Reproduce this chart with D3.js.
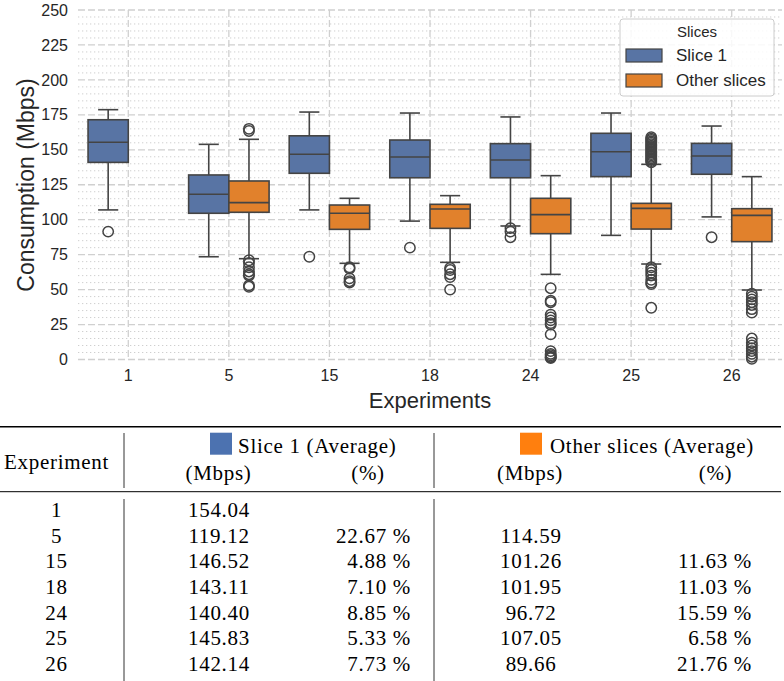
<!DOCTYPE html>
<html>
<head>
<meta charset="utf-8">
<script src="https://cdn.jsdelivr.net/npm/d3@7"></script>
<style>
  html, body { margin: 0; padding: 0; background: #ffffff; }
  svg { display: block; }
</style>
</head>
<body>
<svg id="chart" width="784" height="681"></svg>
<script>
// ---------------- DATA ----------------
const experiments = ["1", "5", "15", "18", "24", "25", "26"];
const yTicks = [0, 25, 50, 75, 100, 125, 150, 175, 200, 225, 250];
const seriesNames = ["Slice 1", "Other slices"];

// Slice 1 box statistics (Mbps), null = no data
const s1WhiskerLow  = [107,   73.5, 107,   99,    95.5,  88.8,  102];
const s1Q1          = [141,   104.6, 133.2, 130,  130,   130.8, 132.5];
const s1Median      = [155.4, 118.2, 146.8, 144.8, 142.7, 148.6, 145.6];
const s1Q3          = [171.5, 132,  160,   157,   154.4, 161.8, 154.6];
const s1WhiskerHigh = [178.7, 153.9, 177,  176.3, 173.5, 176.3, 167];
const s1Outliers    = [[91.5], [], [73.5], [80], [94, 91.5, 87.5], [], [87.5]];

// Other slices box statistics (Mbps)
const otWhiskerLow  = [null, 72.1, 68.8, 69.5, 60.9, 68.3, 49.7];
const otQ1          = [null, 105.3, 93.1, 93.8, 90,   93.3, 84.3];
const otMedian      = [null, 112.2, 104.6, 107.7, 103.6, 108.1, 103.1];
const otQ3          = [null, 127.7, 110.5, 111,  115.3, 111.7, 107.9];
const otWhiskerHigh = [null, 157.5, 115.3, 117.2, 131.5, 139.6, 130.8];
const otOutliers    = [
  [],
  [163.5, 165, 71, 69, 66, 63, 61, 60, 53, 52],
  [66, 65, 58, 56, 55],
  [65.5, 64, 61, 59, 50],
  [51, 42, 41, 32, 30, 28, 26, 25, 18, 6, 4, 3, 2, 1.5, 1],
  [141, 142, 143, 144, 145, 146, 147, 148, 149, 150, 151, 152, 153, 154, 155, 156, 157, 158, 159,
   66, 64, 62, 60, 57, 55, 54, 37],
  [47, 45, 43, 41, 39, 36, 33.5, 15, 12, 10, 8, 6, 4, 2, 0.5]
];

// Table values
const tableExperiments = ["1", "5", "15", "18", "24", "25", "26"];
const s1Average   = ["154.04", "119.12", "146.52", "143.11", "140.40", "145.83", "142.14"];
const s1Percent   = ["", "22.67 %", "4.88 %", "7.10 %", "8.85 %", "5.33 %", "7.73 %"];
const otAverage   = ["", "114.59", "101.26", "101.95", "96.72", "107.05", "89.66"];
const otPercent   = ["", "", "11.63 %", "11.03 %", "15.59 %", "6.58 %", "21.76 %"];

// ---------------- DRAW ----------------
const svg = d3.select("#chart");
const boxColors = ["#5874a4", "#e1812c"];
const legendSwatch = ["#4c72b0", "#ff7f0e"];
const edge = "#444444";
const sansFont = "'Liberation Sans', Arial, sans-serif";
const serifFont = "'Liberation Serif', 'Times New Roman', serif";

const plotL = 78, plotR = 782, plotT = 10, plotB = 359.5;
const x = d3.scaleBand().domain(experiments).range([plotL, plotR]).paddingInner(0).paddingOuter(0);
const hue = d3.scaleBand().domain(seriesNames).range([-x.bandwidth() * 0.4, x.bandwidth() * 0.4]);
const y = d3.scaleLinear().domain([0, 250]).range([plotB, plotT]);

// grid
const grid = svg.append("g");
const minor = d3.range(0, 251, 5).filter(v => v % 25 !== 0);
grid.selectAll("line.minor").data(minor).join("line")
  .attr("x1", plotL).attr("x2", plotR)
  .attr("y1", d => y(d)).attr("y2", d => y(d))
  .attr("stroke", "#cfcfcf").attr("stroke-width", 1)
  .attr("stroke-dasharray", "1.3,2.7");
grid.selectAll("line.major").data(yTicks).join("line")
  .attr("x1", plotL).attr("x2", plotR)
  .attr("y1", d => y(d)).attr("y2", d => y(d))
  .attr("stroke", "#d0d0d0").attr("stroke-width", 1.3)
  .attr("stroke-dasharray", "7,3");
grid.selectAll("line.vmajor").data(experiments).join("line")
  .attr("x1", d => x(d) + x.bandwidth() / 2).attr("x2", d => x(d) + x.bandwidth() / 2)
  .attr("y1", plotT).attr("y2", plotB)
  .attr("stroke", "#d0d0d0").attr("stroke-width", 1.3)
  .attr("stroke-dasharray", "7,3");

// axes (text only, seaborn whitegrid style)
const yAxis = svg.append("g").attr("transform", `translate(${plotL},0)`)
  .call(d3.axisLeft(y).tickValues(yTicks).tickSize(0).tickPadding(10));
yAxis.select(".domain").remove();
yAxis.selectAll("text").attr("font-family", sansFont).attr("font-size", 16).attr("fill", "#262626");

const xAxis = svg.append("g").attr("transform", `translate(0,${plotB})`)
  .call(d3.axisBottom(x).tickSize(0).tickPadding(10));
xAxis.select(".domain").remove();
xAxis.selectAll("text").attr("font-family", sansFont).attr("font-size", 16).attr("fill", "#262626");

svg.append("text").attr("x", 430).attr("y", 408).attr("text-anchor", "middle")
  .attr("font-family", sansFont).attr("font-size", 22).attr("fill", "#262626").text("Experiments");
svg.append("text").attr("transform", "translate(34,185) rotate(-90)").attr("text-anchor", "middle")
  .attr("font-family", sansFont).attr("font-size", 23).attr("fill", "#262626").text("Consumption (Mbps)");

// boxes
const stats = [
  {name: "Slice 1", lo: s1WhiskerLow, q1: s1Q1, med: s1Median, q3: s1Q3, hi: s1WhiskerHigh, out: s1Outliers},
  {name: "Other slices", lo: otWhiskerLow, q1: otQ1, med: otMedian, q3: otQ3, hi: otWhiskerHigh, out: otOutliers}
];
const boxW = hue.bandwidth();
const capW = boxW / 2;
stats.forEach((s, si) => {
  experiments.forEach((e, i) => {
    if (s.q1[i] == null) return;
    const cx = x(e) + x.bandwidth() / 2 + hue(s.name) + boxW / 2;
    const g = svg.append("g");
    // whiskers
    g.append("line").attr("x1", cx).attr("x2", cx).attr("y1", y(s.q3[i])).attr("y2", y(s.hi[i]))
      .attr("stroke", edge).attr("stroke-width", 1.6);
    g.append("line").attr("x1", cx).attr("x2", cx).attr("y1", y(s.q1[i])).attr("y2", y(s.lo[i]))
      .attr("stroke", edge).attr("stroke-width", 1.6);
    g.append("line").attr("x1", cx - capW / 2).attr("x2", cx + capW / 2).attr("y1", y(s.hi[i])).attr("y2", y(s.hi[i]))
      .attr("stroke", edge).attr("stroke-width", 1.6);
    g.append("line").attr("x1", cx - capW / 2).attr("x2", cx + capW / 2).attr("y1", y(s.lo[i])).attr("y2", y(s.lo[i]))
      .attr("stroke", edge).attr("stroke-width", 1.6);
    // box
    g.append("rect").attr("x", cx - boxW / 2).attr("y", y(s.q3[i]))
      .attr("width", boxW).attr("height", y(s.q1[i]) - y(s.q3[i]))
      .attr("fill", boxColors[si]).attr("stroke", edge).attr("stroke-width", 1.6);
    g.append("line").attr("x1", cx - boxW / 2).attr("x2", cx + boxW / 2).attr("y1", y(s.med[i])).attr("y2", y(s.med[i]))
      .attr("stroke", edge).attr("stroke-width", 1.6);
    // outliers
    g.selectAll("circle").data(s.out[i]).join("circle")
      .attr("cx", cx).attr("cy", d => y(d)).attr("r", 5.2)
      .attr("fill", "none").attr("stroke", edge).attr("stroke-width", 1.5);
  });
});

// legend
const lg = svg.append("g");
lg.append("rect").attr("x", 620).attr("y", 19).attr("width", 154).attr("height", 77).attr("rx", 3)
  .attr("fill", "#ffffff").attr("fill-opacity", 0.85).attr("stroke", "#cccccc").attr("stroke-width", 1);
lg.append("text").attr("x", 697).attr("y", 37).attr("text-anchor", "middle")
  .attr("font-family", sansFont).attr("font-size", 15).attr("fill", "#262626").text("Slices");
seriesNames.forEach((n, i) => {
  lg.append("rect").attr("x", 626).attr("y", 49 + i * 25).attr("width", 36).attr("height", 13)
    .attr("fill", boxColors[i]).attr("stroke", edge).attr("stroke-width", 1.2);
  lg.append("text").attr("x", 676).attr("y", 61 + i * 25)
    .attr("font-family", sansFont).attr("font-size", 17).attr("fill", "#262626").text(n);
});

// ---------------- TABLE ----------------
const tb = svg.append("g").attr("font-family", serifFont).attr("font-size", 21).attr("fill", "#000");
tb.append("line").attr("x1", 0).attr("x2", 781).attr("y1", 426.7).attr("y2", 426.7).attr("stroke", "#000").attr("stroke-width", 1.4);
tb.append("line").attr("x1", 0).attr("x2", 781).attr("y1", 491.7).attr("y2", 491.7).attr("stroke", "#000").attr("stroke-width", 1);
[124, 434].forEach(vx => {
  tb.append("line").attr("x1", vx).attr("x2", vx).attr("y1", 433).attr("y2", 488).attr("stroke", "#333").attr("stroke-width", 1);
  tb.append("line").attr("x1", vx).attr("x2", vx).attr("y1", 499).attr("y2", 681).attr("stroke", "#333").attr("stroke-width", 1);
});
const txt = (xx, yy, s, anchor) => tb.append("text").attr("x", xx).attr("y", yy)
  .attr("text-anchor", anchor).attr("letter-spacing", 0.7).text(s);

txt(56.5, 469, "Experiment", "middle");
tb.append("rect").attr("x", 210).attr("y", 432.7).attr("width", 22).attr("height", 22).attr("fill", legendSwatch[0]);
txt(238, 453, "Slice 1 (Average)", "start");
tb.append("rect").attr("x", 520).attr("y", 432.7).attr("width", 22).attr("height", 22).attr("fill", legendSwatch[1]);
txt(550, 453, "Other slices (Average)", "start");
txt(218.5, 480, "(Mbps)", "middle");
txt(368, 480, "(%)", "middle");
txt(530, 480, "(Mbps)", "middle");
txt(715.5, 480, "(%)", "middle");

tableExperiments.forEach((e, i) => {
  const by = 517.3 + i * 25.55;
  txt(56.5, by, e, "middle");
  txt(219, by, s1Average[i], "middle");
  txt(411, by, s1Percent[i], "end");
  txt(531, by, otAverage[i], "middle");
  txt(752, by, otPercent[i], "end");
});
</script>
</body>
</html>
